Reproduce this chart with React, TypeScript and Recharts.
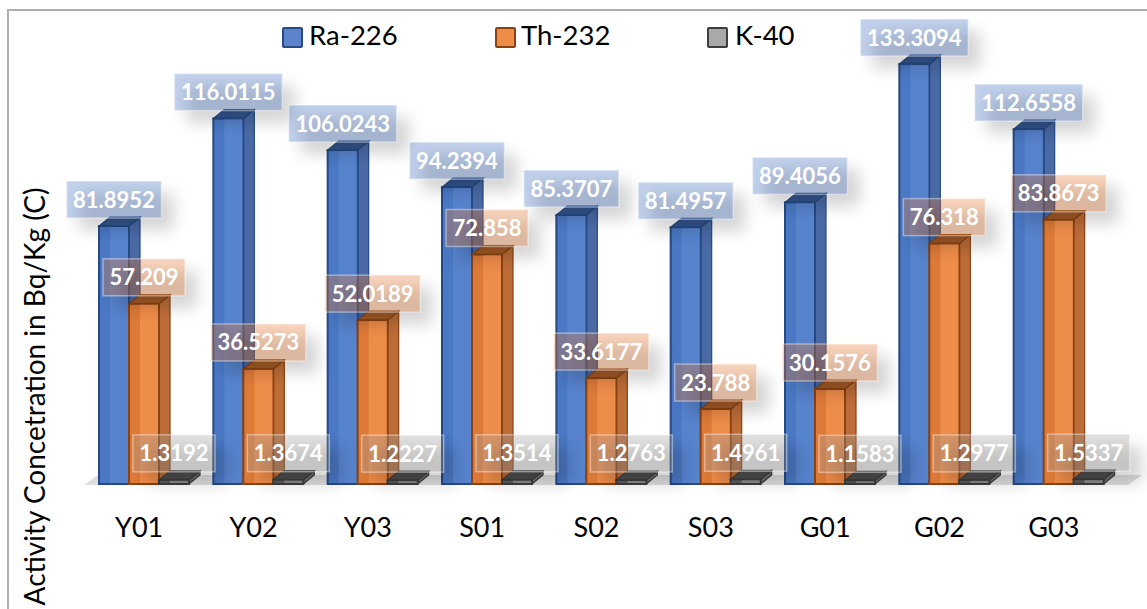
import { BarChart, Bar, XAxis, YAxis, LabelList, ReferenceArea } from "recharts";

const categories = ["Y01", "Y02", "Y03", "S01", "S02", "S03", "G01", "G02", "G03"];
const ra226 = [81.8952, 116.0115, 106.0243, 94.2394, 85.3707, 81.4957, 89.4056, 133.3094, 112.6558];
const th232 = [57.209, 36.5273, 52.0189, 72.858, 33.6177, 23.788, 30.1576, 76.318, 83.8673];
const k40 = [1.3192, 1.3674, 1.2227, 1.3514, 1.2763, 1.4961, 1.1583, 1.2977, 1.5337];

const rows = categories.map((name, i) => ({
  name,
  ra: ra226[i],
  th: th232[i],
  k: k40[i],
}));

const FONT = "Lato, 'Open Sans', sans-serif";
const DX = 11;
const DY = 9;

const blue = { front: "#4a78c4", light: "#5783cd", side: "#4a6aa6", top: "#34558f", line: "#264a85", label: "rgba(68,114,196,0.32)" };
const orange = { front: "#dd7a38", light: "#ee8c4a", side: "#bd6d38", top: "#a35a26", line: "#8a4312", label: "rgba(237,125,49,0.32)" };
const gray = { front: "#5c5c5c", light: "#8a8a8a", side: "#6a6a6a", top: "#4d4d4d", line: "#3d3d3d", label: "rgba(165,165,165,0.32)" };

function box(p: typeof blue) {
  return function Box3D(props: any) {
    const { x, y, width, height } = props;
    const w = width;
    return (
      <g>
        <polygon
          points={`${x + w},${y} ${x + w + DX},${y - DY} ${x + w + DX},${y + height - DY} ${x + w},${y + height}`}
          fill={p.side}
          stroke={p.line}
          strokeWidth={1.2}
        />
        <polygon
          points={`${x},${y} ${x + DX},${y - DY} ${x + w + DX},${y - DY} ${x + w},${y}`}
          fill={p.top}
          stroke={p.line}
          strokeWidth={1.2}
        />
        <rect x={x} y={y} width={w} height={height} fill={p.front} stroke={p.line} strokeWidth={2} />
        <rect x={x + 11} y={y + 1} width={w - 12} height={Math.max(height - 2, 0)} fill={p.light} />
      </g>
    );
  };
}

function valueLabel(fill: string) {
  return function ValueLabel(props: any) {
    const { x, y, width, value } = props;
    const text = String(value);
    const w = text.length * 13 + 4;
    const h = 37;
    const cx = x + width / 2;
    const top = y - 8 - h;
    return (
      <g>
        <rect x={cx - w / 2 + 12} y={top + 12} width={w} height={h} fill="#000" opacity={0.17} filter="url(#labelShadow)" />
        <rect x={cx - w / 2} y={top} width={w} height={h} fill={fill} stroke="rgba(255,255,255,0.4)" strokeWidth={1.5} />
        <text x={cx} y={top + h / 2 + 8} textAnchor="middle" fill="#fff" fontFamily={FONT} fontWeight={700} fontSize={22}>
          {text}
        </text>
      </g>
    );
  };
}

function Floor(props: any) {
  const { x, y, width, height } = props;
  const b = y + height;
  return <polygon points={`${x - 3},${b + 1} ${x + 11},${b - 9} ${x + width + 26},${b - 9} ${x + width + 12},${b + 1}`} fill="#dedede" />;
}

const legendItems = [
  { name: "Ra-226", p: blue, fill: "#5b84cc", x: 282, tx: 309 },
  { name: "Th-232", p: orange, fill: "#ee8c48", x: 495, tx: 521 },
  { name: "K-40", p: gray, fill: "#a9a9a9", x: 707, tx: 735 },
];

export default function App() {
  return (
    <div style={{ position: "absolute", left: 0, top: 0, width: 1147, height: 609, background: "#fff", overflow: "hidden" }}>
      <div style={{ position: "absolute", left: 7, top: 9, right: 0, bottom: 0, borderLeft: "2px solid #b0b0b0", borderTop: "2px solid #b0b0b0" }} />
      <BarChart
        width={1147}
        height={609}
        data={rows}
        margin={{ top: 43, right: 31, bottom: 65, left: 0 }}
        barSize={30}
        barGap={0}
        style={{ position: "absolute", left: 0, top: 0 }}
      >
        <defs>
          <filter id="labelShadow" x="-40%" y="-80%" width="180%" height="260%">
            <feGaussianBlur stdDeviation="8" />
          </filter>
        </defs>
        <ReferenceArea x1="Y01" x2="G03" y1={0} y2={4} shape={Floor} ifOverflow="visible" />
        <XAxis
          dataKey="name"
          axisLine={false}
          tickLine={false}
          height={60}
          tickMargin={28}
          tick={{ fontFamily: FONT, fontSize: 27, fill: "#000", dx: -5 }}
        />
        <YAxis
          width={87}
          domain={[0, 140]}
          tick={false}
          axisLine={false}
          tickLine={false}
          label={{
            value: "Activity Concetration in Bq/Kg (C)",
            angle: -90,
            position: "insideLeft",
            dx: 30,
            dy: 133,
            style: { fontFamily: FONT, fontSize: 28, fill: "#000", textAnchor: "middle" },
          }}
        />
        <Bar dataKey="ra" name="Ra-226" shape={box(blue)} isAnimationActive={false}>
          <LabelList dataKey="ra" content={valueLabel(blue.label)} />
        </Bar>
        <Bar dataKey="th" name="Th-232" shape={box(orange)} isAnimationActive={false}>
          <LabelList dataKey="th" content={valueLabel(orange.label)} />
        </Bar>
        <Bar dataKey="k" name="K-40" shape={box(gray)} isAnimationActive={false}>
          <LabelList dataKey="k" content={valueLabel(gray.label)} />
        </Bar>
      </BarChart>
      {legendItems.map((item) => (
        <div key={item.name}>
          <div
            style={{
              position: "absolute",
              left: item.x,
              top: 27,
              width: 17,
              height: 17,
              background: item.fill,
              border: `2px solid ${item.p.line}`,
              borderRadius: 2,
            }}
          />
          <div style={{ position: "absolute", left: item.tx, top: 17, fontFamily: FONT, fontSize: 27.5, lineHeight: "36px", color: "#000" }}>
            {item.name}
          </div>
        </div>
      ))}
    </div>
  );
}
